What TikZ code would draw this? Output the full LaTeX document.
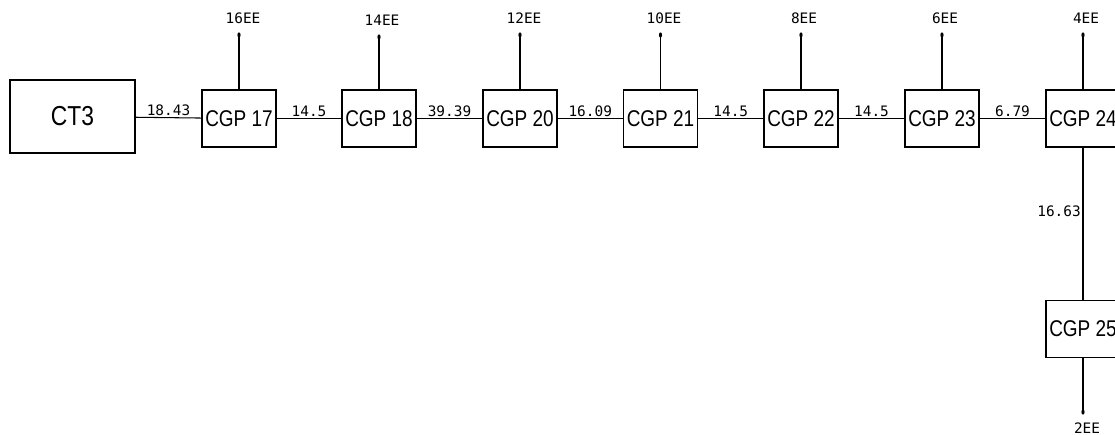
\documentclass[tikz,border=0pt]{standalone}
\usepackage{graphicx}
\usepackage{fontspec}
\setmainfont{Liberation Sans}
\newfontfamily\cadfont{DejaVu Sans Mono}
\newcommand\tall[1]{\scalebox{1}[1.2]{#1}}

\begin{document}
\begin{tikzpicture}[x=0.02cm,y=-0.02cm,line width=0.6pt,
    ctbox/.style={draw,minimum width=2.5cm,minimum height=1.46cm,inner sep=0pt,font=\fontsize{13}{14}\selectfont},
    cgp/.style={draw,minimum width=1.48cm,minimum height=1.14cm,inner sep=0pt,font=\fontsize{10.8}{12}\selectfont},
    lbl/.style={font=\cadfont\fontsize{8.2}{9}\selectfont,inner sep=1pt}]
    \useasboundingbox (0,0) rectangle (1115,435);
    \clip (0,0) rectangle (1115,435);
    % main feeder
    \node at (72.5,116.5) [ctbox] (ct3) {\tall{CT3}};
    \node at (239,118.5) [cgp] (c17) {\tall{CGP 17}};
    \node at (379,118.5) [cgp] (c18) {\tall{CGP 18}};
    \node at (520,118.5) [cgp] (c20) {\tall{CGP 20}};
    \node at (660.5,118.5) [cgp] (c21) {\tall{CGP 21}};
    \node at (801,118.5) [cgp] (c22) {\tall{CGP 22}};
    \node at (942,118.5) [cgp] (c23) {\tall{CGP 23}};
    \node at (1083,118.5) [cgp] (c24) {\tall{CGP 24}};
    \node at (1083,329) [cgp] (c25) {\tall{CGP 25}};
    \draw (ct3) -- node[lbl,above] {18.43} (c17);
    \draw (c17) -- node[lbl,above] {14.5} (c18);
    \draw (c18) -- node[lbl,above] {39.39} (c20);
    \draw (c20) -- node[lbl,above] {16.09} (c21);
    \draw (c21) -- node[lbl,above] {14.5} (c22);
    \draw (c22) -- node[lbl,above] {14.5} (c23);
    \draw (c23) -- node[lbl,above] {6.79} (c24);
    \draw (c24) -- node[lbl,left,pos=0.42] {16.63} (c25);
    % outgoing EE
    \coordinate (t17) at (239,35);
    \coordinate (t18) at (379,37);
    \coordinate (t20) at (520,35);
    \coordinate (t21) at (660.5,35);
    \coordinate (t22) at (801,35);
    \coordinate (t23) at (942,35);
    \coordinate (t24) at (1083,35);
    \coordinate (t25) at (1083,412);
    \draw (c17) -- (t17) (c18) -- (t18) (c20) -- (t20) (c21) -- (t21) (c22) -- (t22) (c23) -- (t23) (c24) -- (t24) (c25) -- (t25);
    \foreach \t in {t17,t18,t20,t21,t22,t23,t24,t25}
        \fill (\t) ellipse (1.6 and 2.6);
    \node at (243,18) [lbl] (e17) {16EE};
    \node at (382,20) [lbl] (e18) {14EE};
    \node at (524,18) [lbl] (e20) {12EE};
    \node at (664,18) [lbl] (e21) {10EE};
    \node at (804,18) [lbl] (e22) {8EE};
    \node at (945,18) [lbl] (e23) {6EE};
    \node at (1086,18) [lbl] (e24) {4EE};
    \node at (1087,428) [lbl] (e25) {2EE};
\end{tikzpicture}
\end{document}
